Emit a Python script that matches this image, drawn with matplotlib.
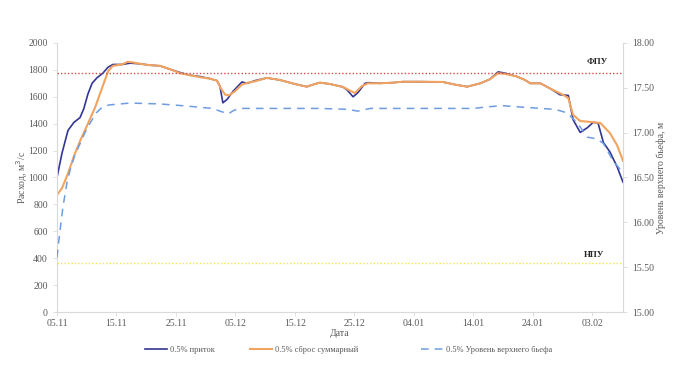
import numpy as np
import pandas as pd
import matplotlib
matplotlib.use("Agg")
import matplotlib.pyplot as plt
import matplotlib.dates as mdates
from matplotlib.ticker import FormatStrFormatter

# данные (день от 05.11, значение)
start = pd.Timestamp("2020-11-05")

pritok_d = [0, 0.84, 1.85, 2.86, 3.87, 4.5, 5.2, 5.9, 6.7, 7.7, 8.6, 9.4, 10.9, 12.3, 14, 15.6,
            17.3, 19, 20.7, 22.4, 24.1, 25.7, 26.9, 27.4, 27.9, 28.6, 29.6, 31.1, 32, 33.3,
            35.3, 37.5, 40, 42, 43.4, 44.2, 45.9, 48.1, 48.8, 49.8, 50.6, 51.8, 52.3, 54.3,
            56.5, 58.2, 61.1, 64.9, 67, 69, 71.2, 72.8, 74.2, 75.4, 77.4, 78.7, 79.6, 81.3,
            83, 84.6, 86, 86.8, 88, 89.2, 90.2, 91, 91.9, 93, 94.2, 95.2]
pritok_v = [1000, 1180, 1350, 1410, 1445, 1510, 1620, 1700, 1740, 1775, 1820, 1840, 1840, 1850,
            1845, 1835, 1830, 1805, 1780, 1760, 1750, 1735, 1720, 1680, 1555, 1580, 1640, 1710,
            1700, 1720, 1740, 1725, 1695, 1675, 1695, 1705, 1695, 1673, 1650, 1600, 1630, 1700,
            1705, 1700, 1705, 1712, 1712, 1710, 1690, 1675, 1700, 1730, 1785, 1775, 1750, 1725,
            1700, 1700, 1660, 1615, 1610, 1430, 1335, 1370, 1410, 1405, 1260, 1190, 1080, 965]

sbros_d = [0, 0.84, 1.85, 2.86, 3.87, 5.2, 6.4, 7.7, 8.6, 9.4, 10.9, 11.9, 12.8, 14, 15.6, 17.3,
           19, 20.7, 22.4, 24.1, 25.7, 26.9, 27.6, 28.3, 28.9, 29.9, 31.1, 32, 33.3, 35.3, 37.5,
           40, 42, 43.4, 44.2, 45.9, 48.1, 49.1, 50.1, 51.3, 52.3, 54.3, 56.5, 58.2, 61.1, 64.9,
           67, 69, 71.2, 72.8, 74.2, 75.4, 77.4, 78.7, 79.6, 81.3, 83, 85.1, 86, 86.8, 88, 89.7,
           91.4, 93, 94.2, 95.2]
sbros_v = [870, 920, 1030, 1160, 1270, 1400, 1520, 1680, 1790, 1830, 1840, 1860, 1855, 1845,
           1835, 1830, 1805, 1775, 1760, 1745, 1735, 1720, 1660, 1615, 1610, 1640, 1690, 1703,
           1715, 1740, 1725, 1695, 1675, 1695, 1705, 1695, 1673, 1650, 1628, 1680, 1700, 1700,
           1705, 1712, 1712, 1710, 1690, 1675, 1700, 1730, 1775, 1770, 1750, 1725, 1700, 1700,
           1660, 1615, 1590, 1465, 1420, 1413, 1405, 1330, 1240, 1125]

uvb_d = [0, 0.5, 1, 1.7, 2.2, 3, 3.9, 4.7, 5.6, 6.6, 7.7, 8.9, 12.3, 17.3, 21.2, 26.2, 27.4,
         28.8, 29.8, 30.8, 44.2, 48.8, 50.6, 52.7, 70, 72.8, 75, 81.3, 83.8, 85.8, 87.5, 89.2,
         90.8, 91.9, 93.5, 95.2]
uvb_v = [15.61, 15.90, 16.17, 16.45, 16.58, 16.75, 16.88, 17.00, 17.11, 17.22, 17.29, 17.31,
         17.33, 17.32, 17.30, 17.27, 17.24, 17.21, 17.25, 17.27, 17.27, 17.26, 17.24, 17.27,
         17.27, 17.29, 17.30, 17.27, 17.26, 17.22, 17.11, 16.95, 16.93, 16.88, 16.69, 16.55]

fpu = 17.67
npu = 15.55


def to_dates(days):
    return start + pd.to_timedelta(np.array(days), unit="D")


plt.rcParams["font.family"] = ["Liberation Serif", "DejaVu Serif"]
grey = "#d9d9d9"
tcol = "#595959"

fig = plt.figure(figsize=(6.8, 3.86), dpi=100)
ax = fig.add_axes([0.0838, 0.1917, 0.8324, 0.697])
ax2 = ax.twinx()

l1, = ax.plot(to_dates(pritok_d), pritok_v, color="#323694", lw=1.2, label="0.5% приток")
l2, = ax.plot(to_dates(sbros_d), sbros_v, color="#F2A360", lw=1.5, label="0.5% сброс суммарный")
l3, = ax2.plot(to_dates(uvb_d), uvb_v, color="#6E9CE0", lw=1.1, dashes=(5, 4),
               label="0.5% Уровень верхнего бьефа")
ax2.axhline(fpu, color="#D0504D", lw=1.0, ls=(0, (1, 1.5)))
ax2.axhline(npu, color="#F5E35A", lw=1.0, ls=(0, (1, 1.5)))
ax2.text(0.954, 17.79, "ФПУ", transform=ax2.get_yaxis_transform(), ha="center", va="center",
         fontsize=6.5, fontweight="bold", color="#262626")
ax2.text(0.949, 15.64, "НПУ", transform=ax2.get_yaxis_transform(), ha="center", va="center",
         fontsize=6.5, fontweight="bold", color="#262626")

ax.set_xlim(start, start + pd.Timedelta(days=95.2))
ax.set_ylim(0, 2000)
ax.set_yticks(np.arange(0, 2001, 200))
ax2.set_ylim(15, 18)
ax2.set_yticks(np.arange(15, 18.01, 0.5))
ax2.yaxis.set_major_formatter(FormatStrFormatter("%.2f"))
ax.set_xticks(to_dates(range(0, 91, 10)))
ax.xaxis.set_major_formatter(mdates.DateFormatter("%d.%m"))

for a in (ax, ax2):
    for s in a.spines.values():
        s.set_visible(False)
    a.tick_params(labelsize=7, colors=tcol, length=3, width=0.6, color=grey)
ax.spines["left"].set_visible(True)
ax.spines["bottom"].set_visible(True)
ax.spines["left"].set_color(grey)
ax.spines["bottom"].set_color(grey)
ax2.spines["right"].set_visible(True)
ax2.spines["right"].set_color(grey)
ax.tick_params(axis="x", pad=2)

ax.set_xlabel("Дата", fontsize=7, color=tcol, labelpad=1)
ax.set_ylabel("Расход, м$^3$/с", fontsize=7, color=tcol, labelpad=-1)
ax2.set_ylabel("Уровень верхнего бьефа, м", fontsize=7, color=tcol, labelpad=2)

# легенда: три отдельных элемента, как в исходнике
for h, xl in ((l1, 145), (l2, 250), (l3, 421)):
    fig.legend(handles=[h], loc="center left", bbox_to_anchor=(xl / 680, 1 - 350 / 386),
               frameon=False, fontsize=6, handlelength=2.6, handletextpad=0.4,
               borderpad=0, borderaxespad=0, labelcolor=tcol)

fig.savefig("out.png", dpi=100)
